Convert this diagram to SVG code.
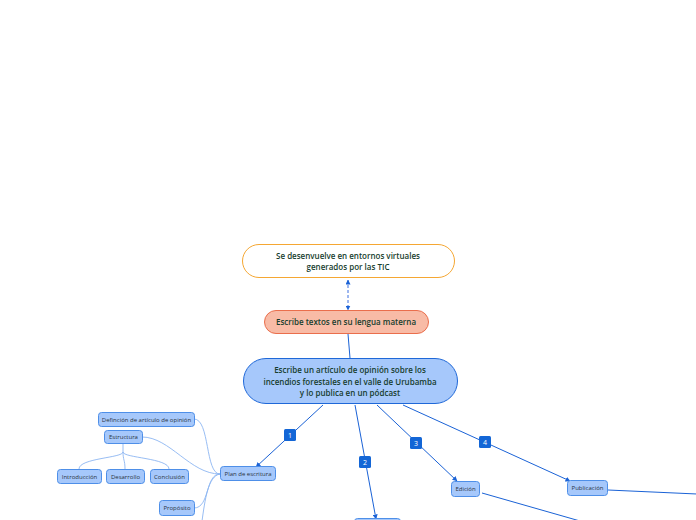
<svg xmlns="http://www.w3.org/2000/svg" width="696" height="520" viewBox="0 0 696 520">
<style>
.t{font-family:"Open Sans","Noto Sans",sans-serif;text-anchor:middle;}
.main{font-size:8px;font-weight:600;fill:#163d2d;}
.sub{font-size:6px;font-weight:500;fill:#2a3340;}
.sn{fill:#a6c8fb;stroke:#4e8fe8;stroke-width:1;}
.c{fill:none;stroke:#1a62d6;stroke-width:1;}
.lc{fill:none;stroke:#8cb6f2;stroke-width:0.9;}
.b{fill:#1366d6;}
.bt{font-family:"Open Sans","Noto Sans",sans-serif;font-size:7px;fill:#fff;text-anchor:middle;}
</style>
<defs>
<marker id="ah" viewBox="0 0 10 10" refX="9" refY="5" markerWidth="5" markerHeight="5" orient="auto-start-reverse"><path d="M0,0 L10,5 L0,10 z" fill="#1a62d6"/></marker>
</defs>
<rect width="696" height="520" fill="#ffffff"/>
<g id="connectors">
<path d="M348,280 L348,310" fill="none" stroke="#3a6fe0" stroke-width="1" stroke-dasharray="3,2" marker-start="url(#ah)" marker-end="url(#ah)"/>
<path class="c" d="M348,334 L350,358"/>
<path class="c" d="M323,405 L256,467" marker-end="url(#ah)"/>
<path class="c" d="M355,405 L376,519" marker-end="url(#ah)"/>
<path class="c" d="M377,405 L457,481" marker-end="url(#ah)"/>
<path class="c" d="M403,405 L570,481" marker-end="url(#ah)"/>
<path class="c" d="M482,493 L580,521"/>
<path class="c" d="M608,490 L697,494"/>
<path class="lc" d="M220,474 C205,474 210,419 194,419"/>
<path class="lc" d="M220,474 C190,474 170,437 142,437"/>
<path class="lc" d="M220,474 C205,474 210,508 194,508"/>
<path class="lc" d="M220,474 C208,476 205,500 202,521"/>
<path class="lc" d="M123,443 L123,452 C123,458 79,458 79,469"/>
<path class="lc" d="M123,452 C123,460 125,460 125,469"/>
<path class="lc" d="M123,452 C123,458 169,458 169,469"/>
</g>
<g id="badge1"><rect class="b" x="284" y="429" width="12" height="12" rx="1.5"/><text class="bt" x="290" y="437.5">1</text></g>
<g id="badge2"><rect class="b" x="359" y="456" width="12" height="12" rx="1.5"/><text class="bt" x="365" y="464.5">2</text></g>
<g id="badge3"><rect class="b" x="410" y="437" width="12" height="12" rx="1.5"/><text class="bt" x="416" y="445.5">3</text></g>
<g id="badge4"><rect class="b" x="479" y="436" width="12" height="12" rx="1.5"/><text class="bt" x="485" y="444.5">4</text></g>
<g id="n-tic">
<rect x="242.5" y="244.5" width="212" height="33" rx="16.5" fill="#ffffff" stroke="#f5a733" stroke-width="1"/>
<text class="t main" x="348" y="258.5">Se desenvuelve en entornos virtuales</text>
<text class="t main" x="348" y="270">generados por las TIC</text>
</g>
<g id="n-lengua">
<rect x="264.5" y="310.5" width="164" height="23" rx="11.5" fill="#f8bba6" stroke="#ea6e4c" stroke-width="1"/>
<text class="t main" x="346" y="325">Escribe textos en su lengua materna</text>
</g>
<g id="n-main">
<rect x="243.5" y="358.5" width="214" height="45" rx="22.5" fill="#a6c8fb" stroke="#1f68d8" stroke-width="1"/>
<text class="t main" x="350" y="373">Escribe un artículo de opinión sobre los</text>
<text class="t main" x="350" y="384.5">incendios forestales en el valle de Urubamba</text>
<text class="t main" x="350" y="396">y lo publica en un pódcast</text>
</g>
<g id="n-plan"><rect class="sn" x="220.5" y="466.5" width="55" height="14" rx="3"/><text class="t sub" x="248" y="475.8">Plan de escritura</text></g>
<g id="n-def"><rect class="sn" x="98.5" y="412.5" width="96" height="14" rx="3"/><text class="t sub" x="146.5" y="421.8">Definción de artículo de opinión</text></g>
<g id="n-estr"><rect class="sn" x="104.5" y="430.5" width="38" height="13" rx="3"/><text class="t sub" x="123.5" y="439.3">Estructura</text></g>
<g id="n-intro"><rect class="sn" x="57.5" y="469.5" width="44" height="14" rx="3"/><text class="t sub" x="79.5" y="478.8">Introducción</text></g>
<g id="n-des"><rect class="sn" x="106.5" y="469.5" width="38" height="14" rx="3"/><text class="t sub" x="125.5" y="478.8">Desarrollo</text></g>
<g id="n-conc"><rect class="sn" x="150.5" y="469.5" width="38" height="14" rx="3"/><text class="t sub" x="169.5" y="478.8">Conclusión</text></g>
<g id="n-prop"><rect class="sn" x="159.5" y="500.5" width="35" height="15" rx="3"/><text class="t sub" x="177" y="510.3">Propósito</text></g>
<g id="n-edic"><rect class="sn" x="451.5" y="481.5" width="28" height="15" rx="3"/><text class="t sub" x="465.5" y="491.3">Edición</text></g>
<g id="n-pub"><rect class="sn" x="567.5" y="480.5" width="40" height="15" rx="3"/><text class="t sub" x="587.5" y="490.3">Publicación</text></g>
<g id="n-bottom"><rect class="sn" x="354.5" y="518.5" width="46" height="14" rx="3"/></g>
</svg>
